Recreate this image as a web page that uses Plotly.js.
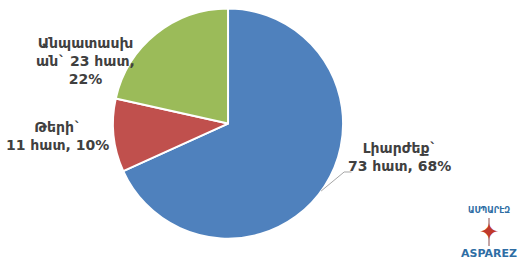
<!DOCTYPE html>
<html><head><meta charset="utf-8">
<script src="https://cdn.plot.ly/plotly-3.0.1.min.js"></script>
<style>body{margin:0;background:#fff}#c{width:523px;height:261px}</style>
</head><body><div id="c"></div>
<script>
const categories = ["Լիարժեք", "Թերի", "Անպատասխան"];
const counts = [73, 11, 23];
const percents = [68, 10, 22];
const colors = ["#4F81BD", "#C0504D", "#9BBB59"];
const unit = "հատ";

const labelText = [
  categories[0] + "`<br>" + counts[0] + " " + unit + ", " + percents[0] + "%",
  categories[1] + "`<br>" + counts[1] + " " + unit + ", " + percents[1] + "%",
  "Անպատասխ<br>ան` " + counts[2] + " " + unit + ",<br>" + percents[2] + "%"
];

const trace = {
  type: "pie",
  labels: categories,
  values: counts,
  sort: false,
  direction: "clockwise",
  rotation: 0,
  marker: {colors: colors, line: {color: "#ffffff", width: 2}},
  textinfo: "none",
  hoverinfo: "none",
  showlegend: false,
  domain: {x: [0.216, 0.656], y: [0.084, 0.969]}
};

const font = {family: "DejaVu Sans, sans-serif", size: 14, color: "#404040", weight: "bold"};
const logoFont = {family: "DejaVu Sans, sans-serif", color: "#2e6da4", weight: "bold"};
const layout = {
  width: 523, height: 261,
  margin: {l: 0, r: 0, t: 0, b: 0},
  paper_bgcolor: "#ffffff",
  showlegend: false,
  shapes: [
    {type: "path", xref: "paper", yref: "paper",
     path: "M 0.614 0.268 L 0.658 0.341 L 0.672 0.341",
     line: {color: "#a6a6a6", width: 1}},
    {type: "line", xref: "paper", yref: "paper",
     x0: 489/523, x1: 489/523, y0: 1 - 218/261, y1: 1 - 246/261,
     line: {color: "#8a4a4a", width: 1}}
  ],
  annotations: [
    {xref: "paper", yref: "paper", x: 399/523, y: 1 - 157/261, text: labelText[0],
     showarrow: false, font: font, align: "center", xanchor: "center", yanchor: "middle"},
    {xref: "paper", yref: "paper", x: 57/523, y: 1 - 136/261, text: labelText[1],
     showarrow: false, font: font, align: "center", xanchor: "center", yanchor: "middle"},
    {xref: "paper", yref: "paper", x: 85/523, y: 1 - 61/261, text: labelText[2],
     showarrow: false, font: font, align: "center", xanchor: "center", yanchor: "middle"},
    {xref: "paper", yref: "paper", x: 489/523, y: 1 - 210/261, text: "ԱՍՊԱՐԷԶ",
     showarrow: false, xanchor: "center", yanchor: "middle", font: Object.assign({size: 8}, logoFont)},
    {xref: "paper", yref: "paper", x: 489/523, y: 1 - 232/261, text: "✦",
     showarrow: false, xanchor: "center", yanchor: "middle",
     font: {family: "DejaVu Sans, sans-serif", size: 24, color: "#c0392b"}},
    {xref: "paper", yref: "paper", x: 489/523, y: 1 - 253/261, text: "ASPAREZ",
     showarrow: false, xanchor: "center", yanchor: "middle", font: Object.assign({size: 11}, logoFont)}
  ]
};
Plotly.newPlot("c", [trace], layout, {staticPlot: true, displayModeBar: false});
</script></body></html>
